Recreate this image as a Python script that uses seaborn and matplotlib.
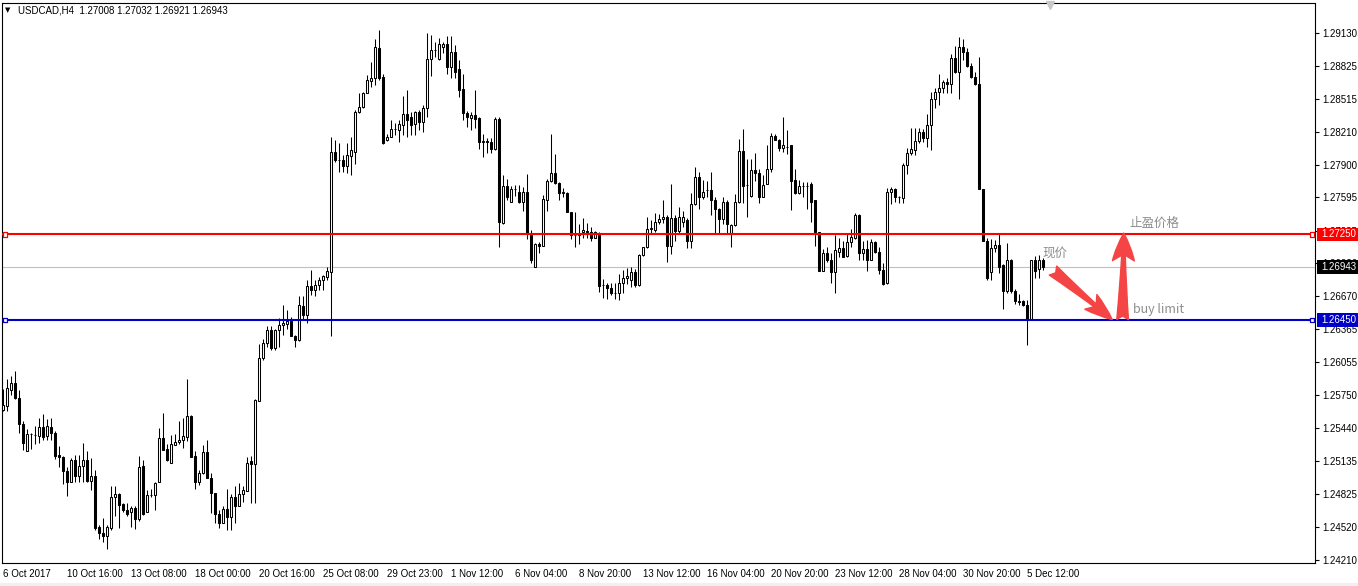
import numpy as np
import pandas as pd
import matplotlib.pyplot as plt
import seaborn as sns
from matplotlib.patches import Rectangle

# USDCAD H4 candles, prices in pips (x 1e-4)
opens = [
    12561, 12565, 12580, 12586, 12572, 12548, 12523, 12539, 12538, 12537,
    12545, 12537, 12545, 12540, 12519, 12517, 12504, 12494, 12514, 12499,
    12509, 12514, 12495, 12499, 12452, 12446, 12443, 12451, 12480, 12483,
    12473, 12468, 12466, 12470, 12459, 12509, 12466, 12482, 12482, 12494,
    12535, 12525, 12512, 12528, 12531, 12533, 12536, 12555, 12518, 12494,
    12502, 12522, 12498, 12484, 12464, 12456, 12469, 12461, 12480, 12471,
    12483, 12485, 12513, 12511, 12569, 12610, 12624, 12636, 12619, 12636,
    12640, 12641, 12644, 12630, 12626, 12658, 12650, 12677, 12673, 12678,
    12682, 12685, 12690, 12802, 12794, 12794, 12789, 12798, 12802, 12839,
    12844, 12857, 12868, 12871, 12899, 12872, 12813, 12816, 12823, 12822,
    12827, 12837, 12835, 12828, 12839, 12830, 12843, 12889, 12897, 12889,
    12900, 12903, 12881, 12895, 12879, 12861, 12838, 12834, 12836, 12834,
    12811, 12812, 12811, 12805, 12833, 12736, 12770, 12755, 12767, 12765,
    12755, 12765, 12726, 12695, 12716, 12714, 12757, 12775, 12782, 12773,
    12764, 12764, 12746, 12724, 12724, 12727, 12728, 12727, 12722, 12726,
    12678, 12678, 12675, 12670, 12670, 12680, 12684, 12682, 12690, 12678,
    12706, 12713, 12730, 12729, 12737, 12739, 12741, 12714, 12740, 12728,
    12737, 12738, 12719, 12753, 12779, 12760, 12766, 12766, 12757, 12749,
    12739, 12755, 12726, 12734, 12755, 12803, 12771, 12761, 12785, 12782,
    12760, 12772, 12786, 12817, 12813, 12806, 12807, 12808, 12776, 12764,
    12770, 12770, 12772, 12757, 12727, 12691, 12708, 12701, 12690, 12709,
    12712, 12705, 12718, 12722, 12743, 12708, 12711, 12701, 12718, 12709,
    12692, 12680, 12765, 12767, 12760, 12759, 12790, 12801, 12804, 12812,
    12821, 12815, 12827, 12851, 12858, 12862, 12867, 12865, 12890, 12877,
    12900, 12895, 12882, 12872, 12865, 12767, 12719, 12690, 12712, 12715,
    12696, 12672, 12701, 12672, 12663, 12663, 12659, 12646, 12701, 12693,
    12700.8,
]
highs = [
    12581, 12590, 12593, 12597, 12580, 12551, 12543, 12540, 12546, 12554,
    12557, 12553, 12554, 12541, 12527, 12518, 12508, 12516, 12519, 12519,
    12530, 12523, 12516, 12505, 12454, 12460, 12454, 12490, 12490, 12484,
    12474, 12474, 12471, 12471, 12518, 12514, 12486, 12487, 12494, 12544,
    12558, 12529, 12538, 12539, 12551, 12554, 12590, 12556, 12523, 12505,
    12528, 12533, 12502, 12484, 12468, 12471, 12487, 12483, 12490, 12493,
    12490, 12517, 12518, 12571, 12623, 12627, 12639, 12639, 12637, 12647,
    12659, 12654, 12648, 12631, 12667, 12667, 12682, 12692, 12682, 12685,
    12687, 12695, 12816, 12813, 12810, 12799, 12810, 12816, 12841, 12857,
    12858, 12874, 12886, 12907, 12916, 12875, 12819, 12832, 12829, 12832,
    12854, 12860, 12839, 12840, 12841, 12846, 12913, 12911, 12905, 12908,
    12905, 12910, 12910, 12902, 12888, 12875, 12840, 12839, 12860, 12835,
    12819, 12815, 12815, 12835, 12835, 12780, 12777, 12770, 12771, 12771,
    12769, 12781, 12729, 12717, 12718, 12762, 12777, 12819, 12800, 12774,
    12768, 12765, 12746, 12746, 12735, 12740, 12736, 12732, 12728, 12727,
    12683, 12680, 12680, 12680, 12688, 12692, 12694, 12695, 12693, 12707,
    12713, 12741, 12738, 12745, 12744, 12757, 12743, 12772, 12743, 12751,
    12747, 12740, 12764, 12788, 12783, 12776, 12775, 12783, 12760, 12750,
    12760, 12757, 12735, 12763, 12814, 12823, 12795, 12795, 12801, 12786,
    12780, 12808, 12820, 12819, 12814, 12835, 12822, 12808, 12786, 12776,
    12774, 12774, 12774, 12757, 12727, 12711, 12713, 12708, 12724, 12722,
    12719, 12726, 12730, 12745, 12744, 12719, 12720, 12721, 12719, 12713,
    12698, 12768, 12769, 12768, 12761, 12792, 12806, 12824, 12824, 12824,
    12823, 12837, 12858, 12862, 12875, 12869, 12871, 12893, 12901, 12909,
    12907, 12899, 12885, 12877, 12891, 12767, 12722, 12721, 12720, 12726,
    12697, 12717, 12702, 12674, 12669, 12664, 12664, 12701, 12705, 12706,
    12703.2,
]
lows = [
    12560, 12560, 12575, 12571, 12540, 12524, 12523, 12525, 12529, 12530,
    12533, 12533, 12533, 12515, 12508, 12492, 12481, 12494, 12494, 12494,
    12494, 12494, 12486, 12449, 12441, 12438, 12431, 12449, 12462, 12451,
    12466, 12462, 12452, 12450, 12457, 12463, 12466, 12480, 12468, 12494,
    12524, 12513, 12512, 12528, 12529, 12526, 12532, 12517, 12487, 12491,
    12501, 12498, 12465, 12456, 12451, 12456, 12449, 12449, 12456, 12471,
    12475, 12485, 12474, 12474, 12569, 12608, 12620, 12617, 12617, 12620,
    12631, 12637, 12630, 12620, 12625, 12645, 12642, 12668, 12667, 12673,
    12673, 12682, 12630, 12793, 12783, 12783, 12782, 12780, 12791, 12838,
    12843, 12857, 12863, 12864, 12869, 12809, 12812, 12816, 12818, 12811,
    12818, 12816, 12818, 12818, 12822, 12821, 12835, 12873, 12891, 12888,
    12894, 12875, 12871, 12871, 12853, 12832, 12825, 12822, 12824, 12805,
    12797, 12801, 12801, 12804, 12713, 12735, 12757, 12755, 12761, 12754,
    12747, 12721, 12698, 12695, 12708, 12714, 12747, 12774, 12772, 12757,
    12760, 12746, 12721, 12713, 12716, 12722, 12722, 12719, 12722, 12671,
    12666, 12665, 12668, 12665, 12664, 12670, 12679, 12676, 12676, 12677,
    12705, 12712, 12726, 12727, 12735, 12736, 12699, 12707, 12719, 12726,
    12732, 12712, 12712, 12752, 12749, 12758, 12760, 12743, 12726, 12726,
    12735, 12726, 12713, 12733, 12754, 12754, 12741, 12760, 12775, 12754,
    12760, 12772, 12783, 12813, 12803, 12802, 12800, 12748, 12763, 12763,
    12760, 12749, 12737, 12714, 12691, 12691, 12699, 12680, 12670, 12704,
    12704, 12704, 12713, 12721, 12701, 12701, 12691, 12701, 12708, 12688,
    12678, 12679, 12753, 12755, 12754, 12754, 12781, 12799, 12799, 12810,
    12811, 12807, 12804, 12843, 12846, 12857, 12857, 12857, 12876, 12851,
    12888, 12881, 12871, 12864, 12767, 12719, 12682, 12682, 12709, 12689,
    12655, 12670, 12670, 12660, 12659, 12658, 12622, 12645, 12684, 12684,
    12692.1,
]
closes = [
    12566, 12582, 12586, 12572, 12548, 12530, 12539, 12539, 12538, 12545,
    12536, 12546, 12540, 12518, 12517, 12504, 12494, 12514, 12499, 12509,
    12514, 12495, 12499, 12451, 12446, 12443, 12452, 12480, 12483, 12472,
    12468, 12464, 12470, 12459, 12508, 12464, 12482, 12482, 12493, 12535,
    12524, 12514, 12529, 12531, 12533, 12537, 12555, 12517, 12494, 12502,
    12522, 12498, 12484, 12464, 12456, 12469, 12461, 12480, 12471, 12483,
    12486, 12512, 12511, 12570, 12610, 12624, 12636, 12619, 12636, 12640,
    12642, 12644, 12630, 12626, 12659, 12650, 12677, 12673, 12678, 12682,
    12686, 12691, 12802, 12794, 12794, 12789, 12799, 12804, 12839, 12844,
    12857, 12869, 12871, 12900, 12871, 12810, 12816, 12823, 12823, 12828,
    12837, 12832, 12827, 12839, 12830, 12843, 12889, 12897, 12897, 12903,
    12903, 12881, 12895, 12877, 12860, 12838, 12835, 12836, 12833, 12811,
    12812, 12811, 12805, 12833, 12737, 12770, 12760, 12767, 12767, 12755,
    12765, 12726, 12701, 12716, 12714, 12758, 12775, 12782, 12773, 12764,
    12765, 12746, 12724, 12724, 12725, 12729, 12727, 12722, 12727, 12677,
    12678, 12675, 12670, 12670, 12680, 12684, 12686, 12690, 12678, 12706,
    12713, 12730, 12731, 12737, 12739, 12741, 12714, 12740, 12728, 12741,
    12741, 12719, 12753, 12779, 12760, 12765, 12766, 12757, 12749, 12739,
    12755, 12735, 12734, 12755, 12803, 12770, 12771, 12785, 12782, 12760,
    12771, 12786, 12817, 12813, 12806, 12808, 12807, 12775, 12764, 12770,
    12770, 12770, 12755, 12727, 12691, 12708, 12701, 12690, 12710, 12712,
    12704, 12718, 12723, 12743, 12708, 12711, 12701, 12718, 12709, 12692,
    12679, 12765, 12767, 12760, 12760, 12790, 12801, 12805, 12812, 12821,
    12815, 12827, 12851, 12858, 12862, 12867, 12865, 12890, 12877, 12900,
    12895, 12882, 12872, 12865, 12767, 12719, 12684, 12712, 12715, 12695,
    12672, 12701, 12672, 12663, 12662, 12659, 12645, 12701, 12691, 12701,
    12694.3,
]

date_ticks = [0, 16, 32, 48, 64, 80, 96, 112, 128, 144, 160, 176, 192, 208, 224, 240, 256]
date_labels = ['6 Oct 2017', '10 Oct 16:00', '13 Oct 08:00', '18 Oct 00:00', '20 Oct 16:00',
               '25 Oct 08:00', '29 Oct 23:00', '1 Nov 12:00', '6 Nov 04:00', '8 Nov 20:00',
               '13 Nov 12:00', '16 Nov 04:00', '20 Nov 20:00', '23 Nov 12:00', '28 Nov 04:00',
               '30 Nov 20:00', '5 Dec 12:00']
price_ticks = [1.29130, 1.28825, 1.28515, 1.28210, 1.27900, 1.27595, 1.27285, 1.26980, 1.26670,
               1.26365, 1.26055, 1.25750, 1.25440, 1.25135, 1.24825, 1.24520, 1.24210]

tp_price = 1.27250
limit_price = 1.26450
bid_price = 1.26943

df = pd.DataFrame({'open': opens, 'high': highs, 'low': lows, 'close': closes}) / 10000
df['bar'] = np.arange(len(df))
df['up'] = df['close'] >= df['open']

sns.set_theme(style='white')
plt.rcParams['font.family'] = ['Liberation Sans', 'DejaVu Sans']

W, H = 1358, 586
fig = plt.figure(figsize=(W / 100, H / 100), dpi=100)
ax = fig.add_axes([2 / W, 1 - 563 / H, 1313 / W, 560 / H])

# wicks then bodies
ax.vlines(df['bar'], df['low'], df['high'], color='black', lw=0.75, zorder=3)
ax.bar(df['bar'], df['close'] - df['open'], bottom=df['open'], width=0.5,
       color=np.where(df['up'], 'white', 'black'), edgecolor='black', linewidth=0.75, zorder=4)

# level lines
ax.axhline(bid_price, color='#c0c0c0', lw=0.8, zorder=2)
ax.axhline(tp_price, color='#ff0000', lw=1.5, zorder=5)
ax.axhline(limit_price, color='#0000c8', lw=1.5, zorder=5)
ends = pd.DataFrame({'bar': [0.5, 327.3, 0.5, 327.3],
                     'price': [tp_price, tp_price, limit_price, limit_price],
                     'kind': ['tp', 'tp', 'lim', 'lim']})
sns.scatterplot(data=ends, x='bar', y='price', hue='kind', palette={'tp': '#ff0000', 'lim': '#0000c8'},
                marker='s', s=10, linewidth=0.9, legend=False, ax=ax, zorder=6)
ax.collections[-1].set_facecolor('white')
ax.collections[-1].set_edgecolor(['#ff0000', '#ff0000', '#0000c8', '#0000c8'])

ax.set_xlim(-0.25, 328)
ax.set_ylim(1.24182, 1.29410)

# axes
for s in ax.spines.values():
    s.set_color('black')
    s.set_linewidth(0.8)
ax.yaxis.tick_right()
ax.set_yticks(price_ticks)
ax.set_yticklabels([f'{p:.5f}' for p in price_ticks])
ax.set_xticks(date_ticks)
ax.set_xticklabels(date_labels)
for lab in ax.get_xticklabels():
    lab.set_ha('left')
ax.tick_params(axis='y', direction='out', length=3, width=0.8, labelsize=7, pad=2, colors='black')
ax.tick_params(axis='x', direction='out', length=3, width=0.8, labelsize=7, pad=1, colors='black')
ax.set_xlabel('')
ax.set_ylabel('')

# price boxes on the right scale (they cover the scale labels under them, as in the terminal)
trans = ax.get_yaxis_transform()
box_h = 0.00128
for price, col in [(tp_price, '#ff0000'), (bid_price, '#000000'), (limit_price, '#0000c8')]:
    ax.add_patch(Rectangle((1.0016, price - box_h / 2), 0.031, box_h, transform=trans,
                           facecolor=col, edgecolor='none', clip_on=False, zorder=10))
    ax.text(1.0045, price, f'{price:.5f}', transform=trans, color='white', fontsize=7,
            va='center', ha='left', clip_on=False, zorder=11)

# header and shift marker
fig.text(8 / W, 1 - 10 / H, '\u25bc', fontsize=5, color='black', va='center', ha='center',
         family=['DejaVu Sans'])
fig.text(18 / W, 1 - 10.5 / H, 'USDCAD,H4  1.27008 1.27032 1.26921 1.26943', fontsize=7,
         color='black', va='center', ha='left')
ax.plot([0.798], [0.996], marker='v', color='#c8c8c8', markersize=6, transform=ax.transAxes,
        clip_on=False, zorder=12)
fig.patches.append(Rectangle((0, 0), 1, 3 / H, transform=fig.transFigure, facecolor='#f0f0f0',
                             edgecolor='none'))

# annotations
cjk = ['Noto Sans CJK SC', 'DejaVu Sans']
ax.text(281.5, 1.27348, '止盈价格', color='#8c8c8c', fontsize=9, va='center', ha='left', family=cjk)
ax.text(259.8, 1.27078, '现价', color='#8c8c8c', fontsize=9, va='center', ha='left', family=cjk)
ax.text(282.5, 1.26546, 'buy limit', color='#8c8c8c', fontsize=9, va='center', ha='left', family=cjk)

arrow_col = '#f44444'
ax.annotate('', xy=(277.3, 1.26455), xytext=(262.5, 1.26912),
            arrowprops=dict(arrowstyle='fancy,head_length=0.95,head_width=0.65,tail_width=0.4',
                            color=arrow_col, shrinkA=0, shrinkB=0, mutation_scale=21), zorder=8)
ax.annotate('', xy=(280.2, 1.27262), xytext=(279.9, 1.26455),
            arrowprops=dict(arrowstyle='fancy,head_length=0.95,head_width=0.75,tail_width=0.4',
                            color=arrow_col, shrinkA=0, shrinkB=0, mutation_scale=21), zorder=8)

fig.savefig('out.png', dpi=100, facecolor='white')
